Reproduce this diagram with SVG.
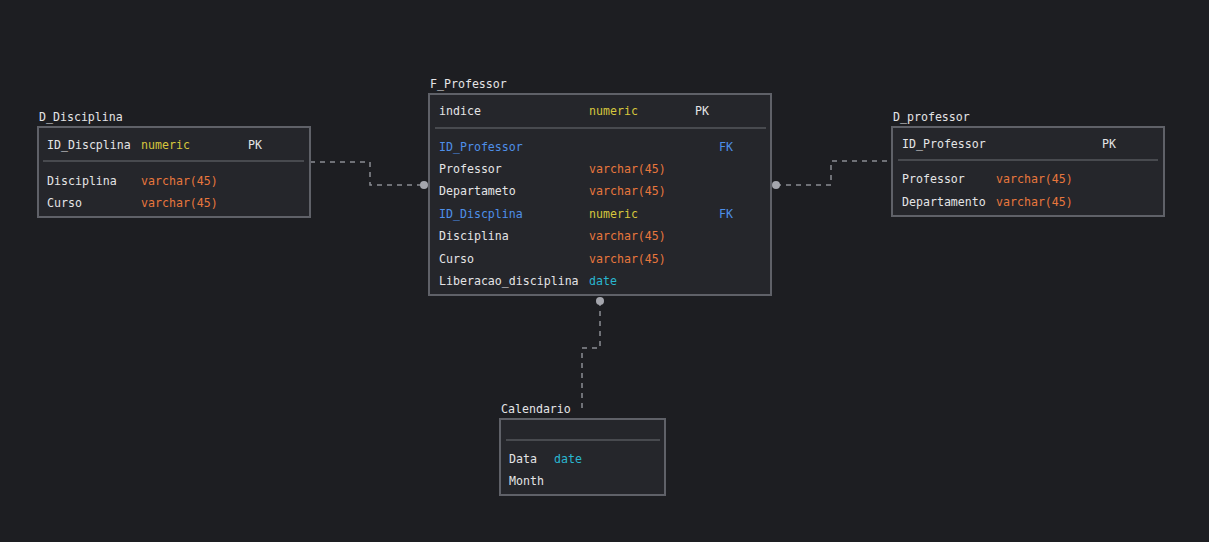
<svg xmlns="http://www.w3.org/2000/svg" width="1209" height="542" viewBox="0 0 1209 542">
<style>
text{font-family:"DejaVu Sans Mono","Liberation Mono",monospace;font-size:11.6px;fill:#e4e4e6;dominant-baseline:central}
.box{fill:#25262b;stroke:#5f6168;stroke-width:2}
.sep{stroke:#55575d;stroke-width:1.5}
.num{fill:#d6c63d}
.var{fill:#e8773d}
.date{fill:#2ab6d0}
.fk{fill:#4e8fe8}
.conn{fill:none;stroke:#8b8d94;stroke-width:1.5;stroke-dasharray:5 5}
.dot{fill:#a4a6ad}
</style>
<rect width="1209" height="542" fill="#1d1e22"/>
<g id="connectors">
<path class="conn" d="M310 162H370V185H424"/>
<circle class="dot" cx="424" cy="185" r="4"/>
<path class="conn" d="M776 185H831V161H892"/>
<circle class="dot" cx="776" cy="185" r="4"/>
<path class="conn" d="M600 301V348H582V408"/>
<circle class="dot" cx="600" cy="301" r="4"/>
</g>
<g id="D_Disciplina">
<text x="39" y="117">D_Disciplina</text>
<rect class="box" x="38" y="127" width="272" height="90"/>
<text x="47" y="145">ID_Discplina</text><text class="num" x="141" y="145">numeric</text><text x="248" y="145">PK</text>
<line class="sep" x1="43" y1="161" x2="304" y2="161"/>
<text x="47" y="181">Disciplina</text><text class="var" x="141" y="181">varchar(45)</text>
<text x="47" y="203">Curso</text><text class="var" x="141" y="203">varchar(45)</text>
</g>
<g id="F_Professor">
<text x="430" y="84">F_Professor</text>
<rect class="box" x="429" y="94" width="342" height="201"/>
<text x="439" y="111">indice</text><text class="num" x="589" y="111">numeric</text><text x="695" y="111">PK</text>
<line class="sep" x1="435" y1="128" x2="766" y2="128"/>
<text class="fk" x="439" y="147">ID_Professor</text><text class="fk" x="719" y="147">FK</text>
<text x="439" y="169">Professor</text><text class="var" x="589" y="169">varchar(45)</text>
<text x="439" y="191">Departameto</text><text class="var" x="589" y="191">varchar(45)</text>
<text class="fk" x="439" y="214">ID_Discplina</text><text class="num" x="589" y="214">numeric</text><text class="fk" x="719" y="214">FK</text>
<text x="439" y="236">Disciplina</text><text class="var" x="589" y="236">varchar(45)</text>
<text x="439" y="259">Curso</text><text class="var" x="589" y="259">varchar(45)</text>
<text x="439" y="281">Liberacao_disciplina</text><text class="date" x="589" y="281">date</text>
</g>
<g id="D_professor">
<text x="893" y="117">D_professor</text>
<rect class="box" x="892" y="127" width="272" height="89"/>
<text x="902" y="144">ID_Professor</text><text x="1102" y="144">PK</text>
<line class="sep" x1="898" y1="160" x2="1158" y2="160"/>
<text x="902" y="179">Professor</text><text class="var" x="996" y="179">varchar(45)</text>
<text x="902" y="202">Departamento</text><text class="var" x="996" y="202">varchar(45)</text>
</g>
<g id="Calendario">
<text x="501" y="409">Calendario</text>
<rect class="box" x="500" y="419" width="165" height="76"/>
<line class="sep" x1="506" y1="440" x2="660" y2="440"/>
<text x="509" y="459">Data</text><text class="date" x="554" y="459">date</text>
<text x="509" y="481">Month</text>
</g>
</svg>
